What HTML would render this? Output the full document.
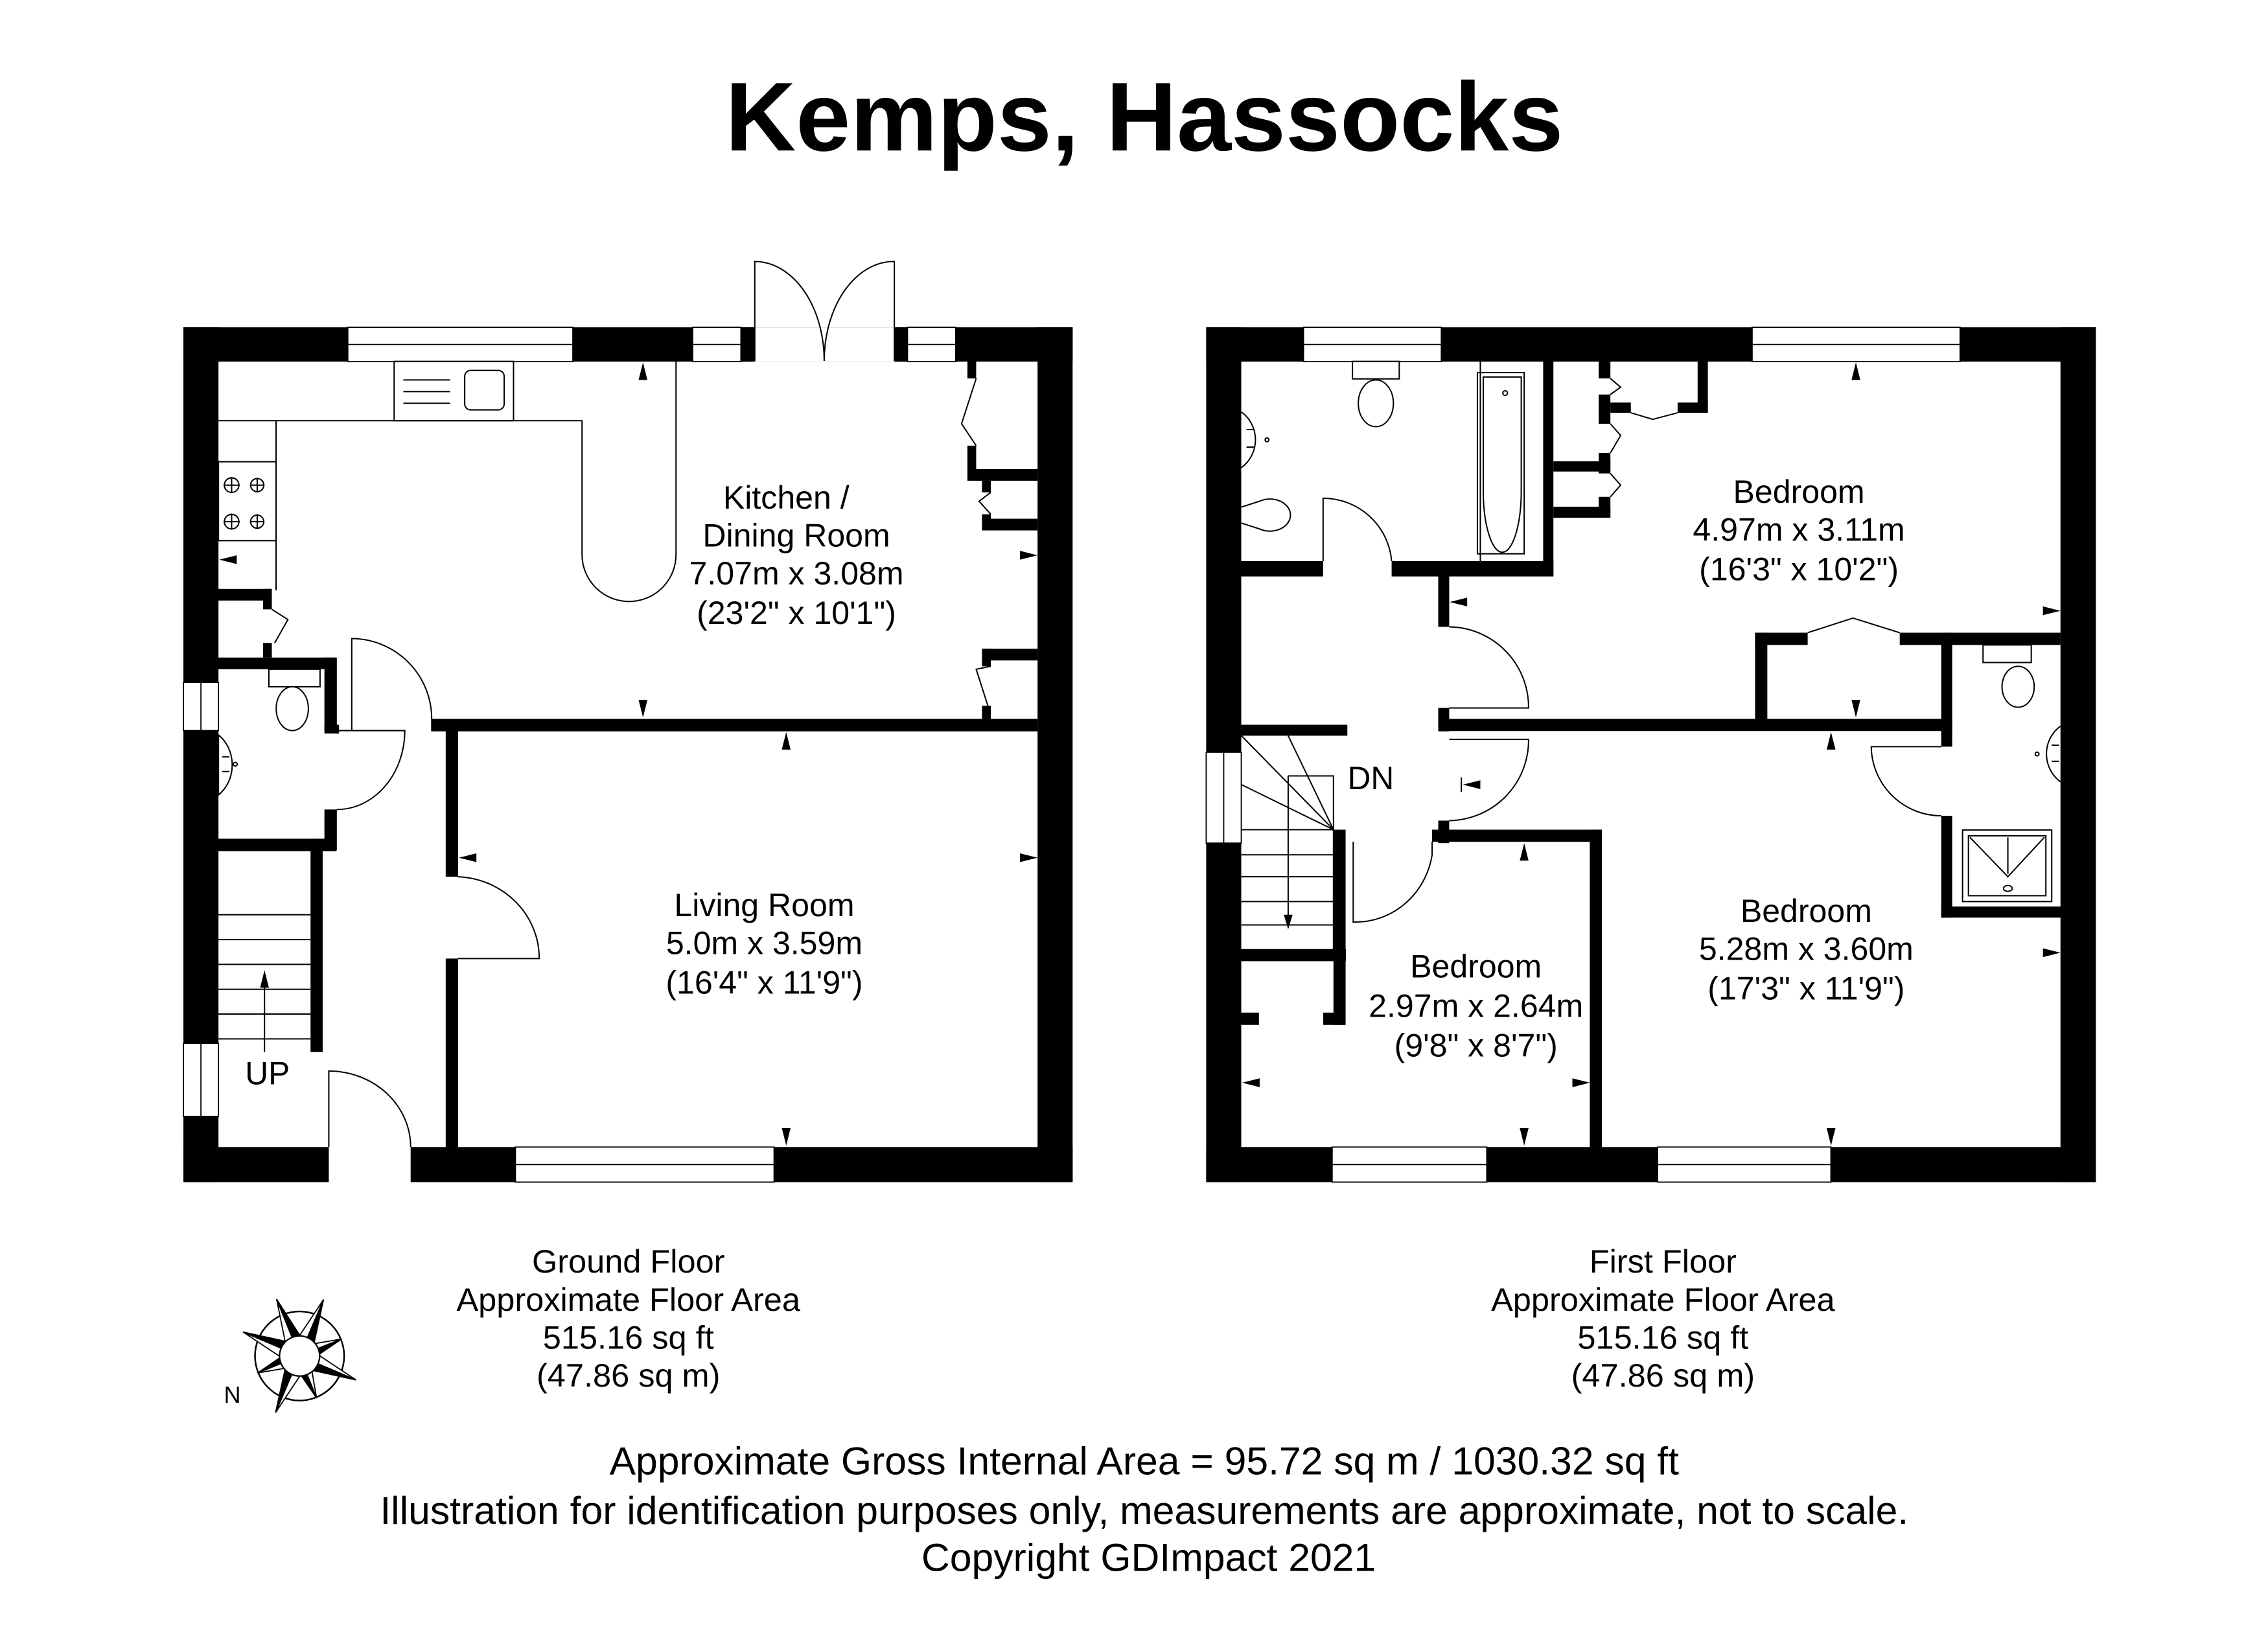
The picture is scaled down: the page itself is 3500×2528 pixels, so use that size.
<!DOCTYPE html>
<html><head><meta charset="utf-8"><style>
html,body{margin:0;padding:0;background:#fff}
svg{display:block}
text{font-family:"Liberation Sans",sans-serif;fill:#000}
</style></head><body>
<svg width="3500" height="2528" viewBox="0 0 1552 1121" xmlns="http://www.w3.org/2000/svg">
<rect width="1552" height="1121" fill="#fff"/>
<text x="783" y="103" font-size="67" font-weight="bold" text-anchor="middle">Kemps, Hassocks</text>

<!-- ================= GROUND FLOOR ================= -->
<g fill="#000">
<rect x="125.5" y="224" width="608.5" height="23.5"/>
<rect x="125.5" y="224" width="24" height="585"/>
<rect x="710" y="224" width="24" height="585"/>
<rect x="125.5" y="785" width="99.5" height="24"/>
<rect x="281" y="785" width="453" height="24"/>
<rect x="295" y="492" width="415" height="8.5"/>
<rect x="305" y="500" width="8.5" height="100"/>
<rect x="305" y="656" width="8.5" height="130"/>
<rect x="149" y="450" width="81" height="8"/>
<rect x="222" y="450" width="8.5" height="50"/>
<rect x="222" y="496" width="10" height="6"/>
<rect x="222" y="554" width="8.5" height="28"/>
<rect x="149" y="574" width="81" height="8.5"/>
<rect x="212.5" y="574" width="8.3" height="146"/>
<rect x="149" y="403" width="37" height="8"/>
<rect x="180" y="403" width="6" height="14"/>
<rect x="180" y="440" width="6" height="10"/>
<rect x="662" y="247" width="6" height="12"/>
<rect x="662" y="305" width="6" height="20"/>
<rect x="662" y="321" width="48" height="8"/>
<rect x="672" y="329" width="6" height="8"/>
<rect x="672" y="352" width="6" height="10"/>
<rect x="672" y="355" width="38" height="8"/>
<rect x="672" y="444" width="38" height="8"/>
<rect x="672" y="444" width="6" height="12"/>
<rect x="672" y="483" width="6" height="10"/>
</g>
<g fill="#fff" stroke="#000" stroke-width="0.8">
<rect x="238" y="224" width="154" height="23.5"/>
<line x1="238" y1="235.75" x2="392" y2="235.75"/>
<rect x="474" y="224" width="33" height="23.5"/>
<line x1="474" y1="235.75" x2="507" y2="235.75"/>
<rect x="621" y="224" width="33" height="23.5"/>
<line x1="621" y1="235.75" x2="654" y2="235.75"/>
<rect x="352.7" y="785" width="177" height="24"/>
<line x1="352.7" y1="797" x2="529.7" y2="797"/>
<rect x="125.5" y="467" width="24" height="33"/>
<line x1="137.5" y1="467" x2="137.5" y2="500"/>
<rect x="125.5" y="714" width="24" height="50"/>
<line x1="137.5" y1="714" x2="137.5" y2="764"/>
</g>
<rect x="507" y="224" width="9.5" height="23.5" fill="#000"/>
<rect x="612" y="224" width="9" height="23.5" fill="#000"/>
<rect x="516.5" y="224" width="95.5" height="23.5" fill="#fff"/>
<g fill="none" stroke="#000" stroke-width="0.9">
<path d="M516.5,247 L516.5,179 A47.5,68 0 0 1 564,247"/>
<path d="M612,247 L612,179 A47.5,68 0 0 0 564,247"/>
<path d="M149.5,287.9 L398.3,287.9 L398.3,379.5 A32,32 0 0 0 462.6,379.5 L462.6,247.3"/>
<line x1="188.9" y1="287.9" x2="188.9" y2="404"/>
<rect x="269.7" y="247.3" width="81.7" height="40.6"/>
<rect x="318" y="253.5" width="27" height="27" rx="4"/>
<line x1="276" y1="260" x2="308" y2="260"/><line x1="276" y1="268" x2="308" y2="268"/><line x1="276" y1="276" x2="308" y2="276"/>
<rect x="149.5" y="316" width="39.4" height="54"/>
<circle cx="158.5" cy="332" r="5"/><circle cx="176" cy="332" r="4.5"/>
<circle cx="158.5" cy="357" r="5"/><circle cx="176" cy="357" r="4.5"/>
<path d="M153,332h11M158.5,326.5v11M171,332h10M176,327v10M153,357h11M158.5,351.5v11M171,357h10M176,352v10"/>
<path d="M186,417 L197,424 L188,440"/>
<path d="M668,259 L658,290 L668,305"/>
<path d="M678,337 L670,343 L678,352"/>
<path d="M678,456 L668,458 L676,483"/>
<path d="M240.7,500 L240.7,437 A55,55 0 0 1 295.4,492"/>
<path d="M230.4,500 L277,500 A46.5,54 0 0 1 230.4,554"/>
<rect x="184" y="458" width="35" height="12"/>
<ellipse cx="200" cy="485" rx="11" ry="15"/>
<path d="M149.5,503 A22,25 0 0 1 149.5,544 Z"/>
<circle cx="161" cy="523" r="1.3"/><path d="M152,518h5M152,528h5"/>
<path d="M313.3,600 A58,56 0 0 1 369,656 L313.3,656"/>
<path d="M225,785 L225,733 A56,52 0 0 1 281,785"/>
<path d="M149.5,582 L212.5,582"/>
<path d="M149.5,626 H212.5 M149.5,643 H212.5 M149.5,660 H212.5 M149.5,677 H212.5 M149.5,694 H212.5 M149.5,711 H212.5"/>
<line x1="181" y1="720" x2="181" y2="670"/>
</g>
<path d="M181,664 L178,676 L184,676 Z" fill="#000"/>
<text x="183" y="742" font-size="22" text-anchor="middle">UP</text>
<g fill="#000">
<path d="M440,248 l-3,12 h6z"/><path d="M440,491 l-3,-12 h6z"/>
<path d="M538,501 l-3,12 h6z"/><path d="M538,784 l-3,-12 h6z"/>
<path d="M150,383 l12,-3 v6z"/><path d="M710,380 l-12,-3 v6z"/>
<path d="M314,587 l12,-3 v6z"/><path d="M710,587 l-12,-3 v6z"/>
</g>
<g font-size="22.2" text-anchor="middle">
<text x="538" y="348">Kitchen /</text>
<text x="545" y="374">Dining Room</text>
<text x="545" y="400">7.07m x 3.08m</text>
<text x="545" y="427">(23'2" x 10'1")</text>
<text x="523" y="627">Living Room</text>
<text x="523" y="653">5.0m x 3.59m</text>
<text x="523" y="680">(16'4" x 11'9")</text>
</g>

<!-- ================= FIRST FLOOR ================= -->
<g fill="#000">
<rect x="825.4" y="224" width="608.8" height="23.5"/>
<rect x="825.4" y="224" width="24" height="585"/>
<rect x="1410" y="224" width="24.2" height="585"/>
<rect x="825.4" y="785" width="608.8" height="24"/>
<rect x="849" y="384" width="56.4" height="10.5"/>
<rect x="952.3" y="384" width="110.7" height="10.5"/>
<rect x="1056" y="247" width="7" height="147"/>
<rect x="1063" y="315.7" width="39" height="7"/>
<rect x="1063" y="346.8" width="39" height="7.5"/>
<rect x="1094" y="247" width="8" height="12"/>
<rect x="1094" y="270" width="8" height="20"/>
<rect x="1094" y="310" width="8" height="14"/>
<rect x="1094" y="340" width="8" height="14"/>
<rect x="1102" y="275.5" width="14" height="7"/>
<rect x="1148" y="275.5" width="20.7" height="7"/>
<rect x="1161.7" y="247" width="7" height="35.5"/>
<rect x="984.2" y="394" width="7.5" height="35"/>
<rect x="984.2" y="484.5" width="7.5" height="16"/>
<rect x="984.2" y="561.6" width="7.5" height="15.4"/>
<rect x="984.2" y="492" width="351.7" height="8.3"/>
<rect x="1201" y="433" width="8.4" height="59"/>
<rect x="1201" y="433" width="36" height="8.4"/>
<rect x="1300" y="433" width="110" height="8.4"/>
<rect x="1328.4" y="433" width="7.5" height="78"/>
<rect x="1328.4" y="558.3" width="7.5" height="69.7"/>
<rect x="1328.4" y="620.4" width="82" height="7.6"/>
<rect x="980" y="567.8" width="116.2" height="8.3"/>
<rect x="1087.9" y="567.8" width="8.3" height="218"/>
<rect x="912.5" y="567.8" width="8.3" height="133.6"/>
<rect x="849" y="496" width="73" height="7.5"/>
<rect x="849" y="649.5" width="72" height="8.3"/>
<rect x="849" y="693" width="12.5" height="8.4"/>
<rect x="905.5" y="693" width="15" height="8.4"/>
</g>
<g fill="#fff" stroke="#000" stroke-width="0.8">
<rect x="892" y="224" width="94.3" height="23.5"/><line x1="892" y1="235.75" x2="986.3" y2="235.75"/>
<rect x="1199" y="224" width="142.3" height="23.5"/><line x1="1199" y1="235.75" x2="1341.3" y2="235.75"/>
<rect x="911.6" y="785" width="105.8" height="24"/><line x1="911.6" y1="797" x2="1017.4" y2="797"/>
<rect x="1134.3" y="785" width="118.6" height="24"/><line x1="1134.3" y1="797" x2="1252.9" y2="797"/>
<rect x="825.4" y="514.8" width="24" height="62.2"/><line x1="837.4" y1="514.8" x2="837.4" y2="577"/>
</g>
<g fill="none" stroke="#000" stroke-width="0.9">
<rect x="925.5" y="247.3" width="32" height="12"/>
<ellipse cx="941.5" cy="276" rx="12" ry="16"/>
<path d="M849.5,282 A22,23 0 0 1 849.5,320"/><circle cx="867" cy="301" r="1.3"/><path d="M853,294h5M853,306h5"/>
<path d="M849.5,347 L862,343 A14,11 0 1 1 862,362 L849.5,358"/>
<line x1="1013" y1="247.3" x2="1013" y2="384"/>
<rect x="1011" y="255" width="32" height="124"/>
<path d="M1015,258 h26 v78 a13,42 0 0 1 -26,0 z"/>
<circle cx="1030" cy="269" r="1.6"/>
<path d="M905.4,384 L905.4,341 A47,47 0 0 1 952.3,384"/>
<path d="M1102,259 L1109,265 L1102,270"/><path d="M1102,290 L1109,298 L1102,310"/><path d="M1102,324 L1109,332 L1102,340"/>
<path d="M1116,282.5 L1131,287 L1148,282.5"/>
<path d="M1237,433 L1268,423 L1300,433"/>
<path d="M991.7,429 A55,55 0 0 1 1046,484.5 L991.7,484.5"/>
<path d="M991.7,506 L1046,506 A55,55 0 0 1 991.7,561.6"/>
<path d="M980,576 L980,585 A53,55 0 0 1 926,631 L926,576"/>
<path d="M1328.4,511 L1280.5,511 A48,48 0 0 0 1328.4,558.3"/>
<rect x="1357" y="441.4" width="33" height="12"/>
<ellipse cx="1381" cy="470" rx="11" ry="14"/>
<path d="M1410,497 A22,23 0 0 0 1410,535"/><circle cx="1394" cy="516" r="1.3"/><path d="M1404,510h5M1404,521h5"/>
<rect x="1343" y="568" width="61" height="49"/>
<rect x="1347" y="572" width="53" height="41"/>
<path d="M1348,573 L1374,600 L1399,573 M1374,573 L1374,598"/>
<ellipse cx="1374" cy="608" rx="3" ry="2"/>
<path d="M849.5,503.5 L912.5,567.8 M881.5,503.5 L912.5,567.8 M849.5,537 L912.5,567.8 M881.5,531 L912.5,531 L912.5,649.5"/>
<path d="M849.5,567.8 H912.5 M849.5,585 H912.5 M849.5,600 H912.5 M849.5,617 H912.5 M849.5,633 H912.5"/>
<line x1="881.5" y1="531" x2="881.5" y2="630"/>
<line x1="1000" y1="532" x2="1000" y2="542"/>
</g>
<path d="M881.5,636 L878.5,626 L884.5,626 Z" fill="#000"/>
<text x="938" y="540" font-size="22" text-anchor="middle">DN</text>
<g fill="#000">
<path d="M1270,248 l-3,12 h6z"/><path d="M1270,491 l-3,-12 h6z"/>
<path d="M1253,501 l-3,12 h6z"/><path d="M1253,784 l-3,-12 h6z"/>
<path d="M1043,577 l-3,12 h6z"/><path d="M1043,784 l-3,-12 h6z"/>
<path d="M992,412 l12,-3 v6z"/><path d="M1410,418 l-12,-3 v6z"/>
<path d="M1001,537 l12,-3 v6z"/>
<path d="M1410,652 l-12,-3 v6z"/>
<path d="M850,741 l12,-3 v6z"/><path d="M1088,741 l-12,-3 v6z"/>
</g>
<g font-size="22.2" text-anchor="middle">
<text x="1231" y="344">Bedroom</text>
<text x="1231" y="370">4.97m x 3.11m</text>
<text x="1231" y="397">(16'3" x 10'2")</text>
<text x="1236" y="631">Bedroom</text>
<text x="1236" y="657">5.28m x 3.60m</text>
<text x="1236" y="684">(17'3" x 11'9")</text>
<text x="1010" y="669">Bedroom</text>
<text x="1010" y="696">2.97m x 2.64m</text>
<text x="1010" y="723">(9'8" x 8'7")</text>
</g>

<g font-size="22.4" text-anchor="middle">
<text x="430" y="871">Ground Floor</text>
<text x="430" y="897">Approximate Floor Area</text>
<text x="430" y="923">515.16 sq ft</text>
<text x="430" y="949">(47.86 sq m)</text>
<text x="1138" y="871">First Floor</text>
<text x="1138" y="897">Approximate Floor Area</text>
<text x="1138" y="923">515.16 sq ft</text>
<text x="1138" y="949">(47.86 sq m)</text>
</g>
<g font-size="26.9" text-anchor="middle">
<text x="783" y="1009">Approximate Gross Internal Area = 95.72 sq m / 1030.32 sq ft</text>
<text x="783" y="1043">Illustration for identification purposes only, measurements are approximate, not to scale.</text>
<text x="786" y="1075">Copyright GDImpact 2021</text>
</g>

<g transform="translate(205,928) rotate(-22)">
<circle r="30.5" fill="#fff" stroke="#000" stroke-width="1.1"/>
<g stroke="#000" stroke-width="0.8">
<g id="sp"><path d="M0,0 L-5,-8 L0,-31 Z" fill="#fff"/><path d="M0,0 L5,-8 L0,-31 Z" fill="#000"/></g>
<use href="#sp" transform="rotate(90)"/><use href="#sp" transform="rotate(180)"/><use href="#sp" transform="rotate(270)"/>
<g id="lp"><path d="M0,0 L-6,-10 L0,-42 Z" fill="#fff"/><path d="M0,0 L6,-10 L0,-42 Z" fill="#000"/></g>
</g>
<g stroke="#000" stroke-width="0.8" transform="rotate(45)">
<use href="#lp"/><use href="#lp" transform="rotate(90)"/><use href="#lp" transform="rotate(180)"/><use href="#lp" transform="rotate(270)"/>
</g>
<circle r="13.7" fill="#fff" stroke="#000" stroke-width="1"/>
</g>
<text x="159" y="960" font-size="16" text-anchor="middle">N</text>
</svg>
</body></html>
